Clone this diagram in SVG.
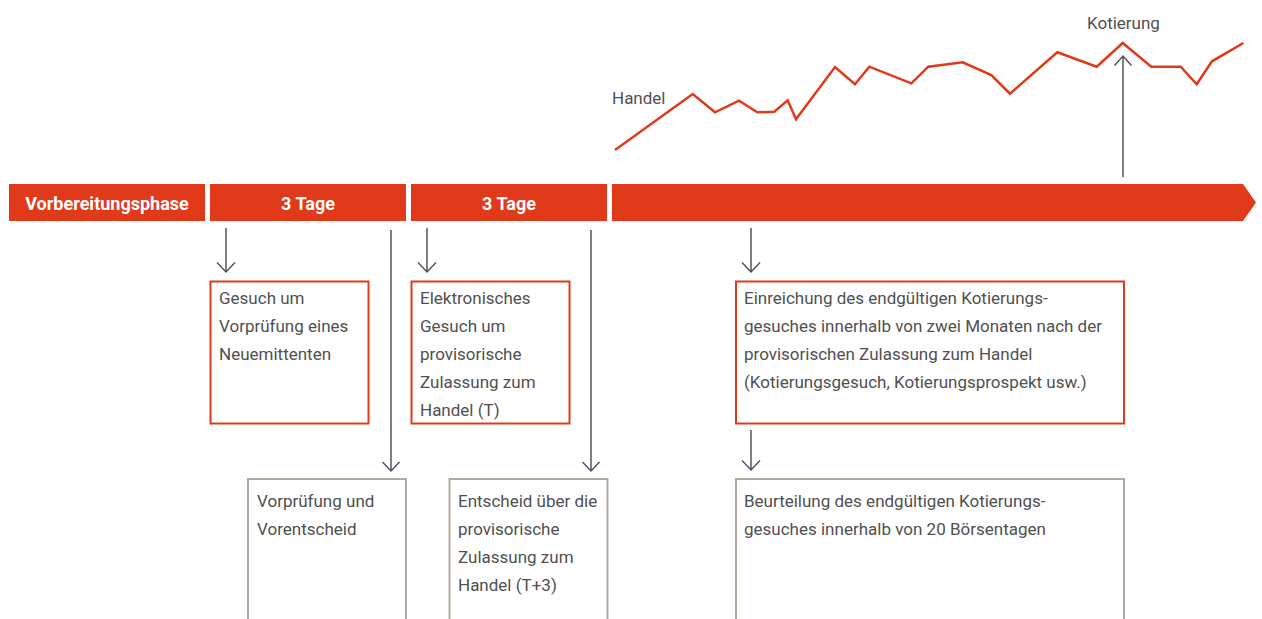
<svg xmlns="http://www.w3.org/2000/svg" width="1262" height="619" viewBox="0 0 1262 619">
<defs>
<style>
.bar{fill:#E03A1A}
.bl{font-family:Roboto,"Liberation Sans",sans-serif;font-weight:bold;font-size:18px;fill:#ffffff;text-anchor:middle}
.t{font-family:Roboto,"Liberation Sans",sans-serif;font-size:17px;fill:#505050}
.rb{fill:#ffffff;stroke:#E03A1A;stroke-width:2}
.gb{fill:#ffffff;stroke:#B3A99E;stroke-width:2}
.ln{fill:none;stroke:#555555;stroke-width:1.5}
.chart{fill:none;stroke:#E03A1A;stroke-width:2.5;stroke-linejoin:miter}
</style>
</defs>
<rect width="1262" height="619" fill="#ffffff"/>
<g id="timeline">
<g id="phase-vorbereitung"><rect class="bar" x="9" y="184" width="196" height="37"/><text class="bl" x="107" y="209.5">Vorbereitungsphase</text></g>
<g id="phase-3tage-1"><rect class="bar" x="210" y="184" width="196" height="37"/><text class="bl" x="308" y="209.5">3 Tage</text></g>
<g id="phase-3tage-2"><rect class="bar" x="411" y="184" width="196" height="37"/><text class="bl" x="509" y="209.5">3 Tage</text></g>
<g id="phase-handel"><polygon class="bar" points="612,184 1243,184 1256,202.5 1243,221 612,221"/></g>
</g>
<g id="chart">
<polyline class="chart" points="615,150 692.7,94 715,112.3 739,100.7 757.3,112.3 774.3,111.7 787.7,100.3 796,119.3 835,67 855,84.3 869.3,66.7 911.3,83.3 928.3,66.7 962.7,62.3 991.3,75 1010,93.7 1057.3,52.3 1096.7,66.7 1122.7,43 1151.3,66.7 1180.7,66.7 1196.7,84.3 1212,61.3 1243.3,43"/>
<text class="t" x="612" y="104">Handel</text>
<text class="t" x="1087" y="29">Kotierung</text>
</g>
<g id="connectors">
<path class="ln" d="M226,228V272M217,262.5L226,272L235,262.5"/>
<path class="ln" d="M391,230V471M382.5,462L391,471L399.5,462"/>
<path class="ln" d="M427,228V272M418,262.5L427,272L436,262.5"/>
<path class="ln" d="M591,230V471M582.5,462L591,471L599.5,462"/>
<path class="ln" d="M751,228V272M742,262.5L751,272L760,262.5"/>
<path class="ln" d="M751,430V470M742,460.5L751,470L760,460.5"/>
<path class="ln" d="M1123,177V56M1114.5,65.5L1123,56L1131.5,65.5"/>
</g>
<g id="node-gesuch-vorpruefung">
<rect class="rb" x="210.5" y="281.5" width="158" height="142"/>
<text class="t" x="219" y="303.5">Gesuch um</text>
<text class="t" x="219" y="331.5">Vorprüfung eines</text>
<text class="t" x="219" y="359.5">Neuemittenten</text>
</g>
<g id="node-elektronisches-gesuch">
<rect class="rb" x="411.5" y="281.5" width="158" height="142"/>
<text class="t" x="420" y="304">Elektronisches</text>
<text class="t" x="420" y="332">Gesuch um</text>
<text class="t" x="420" y="360">provisorische</text>
<text class="t" x="420" y="388">Zulassung zum</text>
<text class="t" x="420" y="416">Handel (T)</text>
</g>
<g id="node-einreichung">
<rect class="rb" x="736" y="281.5" width="388" height="142"/>
<text class="t" x="744" y="304">Einreichung des endgültigen Kotierungs-</text>
<text class="t" x="744" y="332">gesuches innerhalb von zwei Monaten nach der</text>
<text class="t" x="744" y="360">provisorischen Zulassung zum Handel</text>
<text class="t" x="744" y="388">(Kotierungsgesuch, Kotierungsprospekt usw.)</text>
</g>
<g id="node-vorpruefung">
<rect class="gb" x="248" y="479" width="158" height="170"/>
<text class="t" x="257" y="506.5">Vorprüfung und</text>
<text class="t" x="257" y="534.5">Vorentscheid</text>
</g>
<g id="node-entscheid">
<rect class="gb" x="449.5" y="479" width="158" height="170"/>
<text class="t" x="458" y="506.5">Entscheid über die</text>
<text class="t" x="458" y="534.5">provisorische</text>
<text class="t" x="458" y="562.5">Zulassung zum</text>
<text class="t" x="458" y="590.5">Handel (T+3)</text>
</g>
<g id="node-beurteilung">
<rect class="gb" x="736" y="479" width="388" height="170"/>
<text class="t" x="744" y="506.5">Beurteilung des endgültigen Kotierungs-</text>
<text class="t" x="744" y="534.5">gesuches innerhalb von 20 Börsentagen</text>
</g>
</svg>
